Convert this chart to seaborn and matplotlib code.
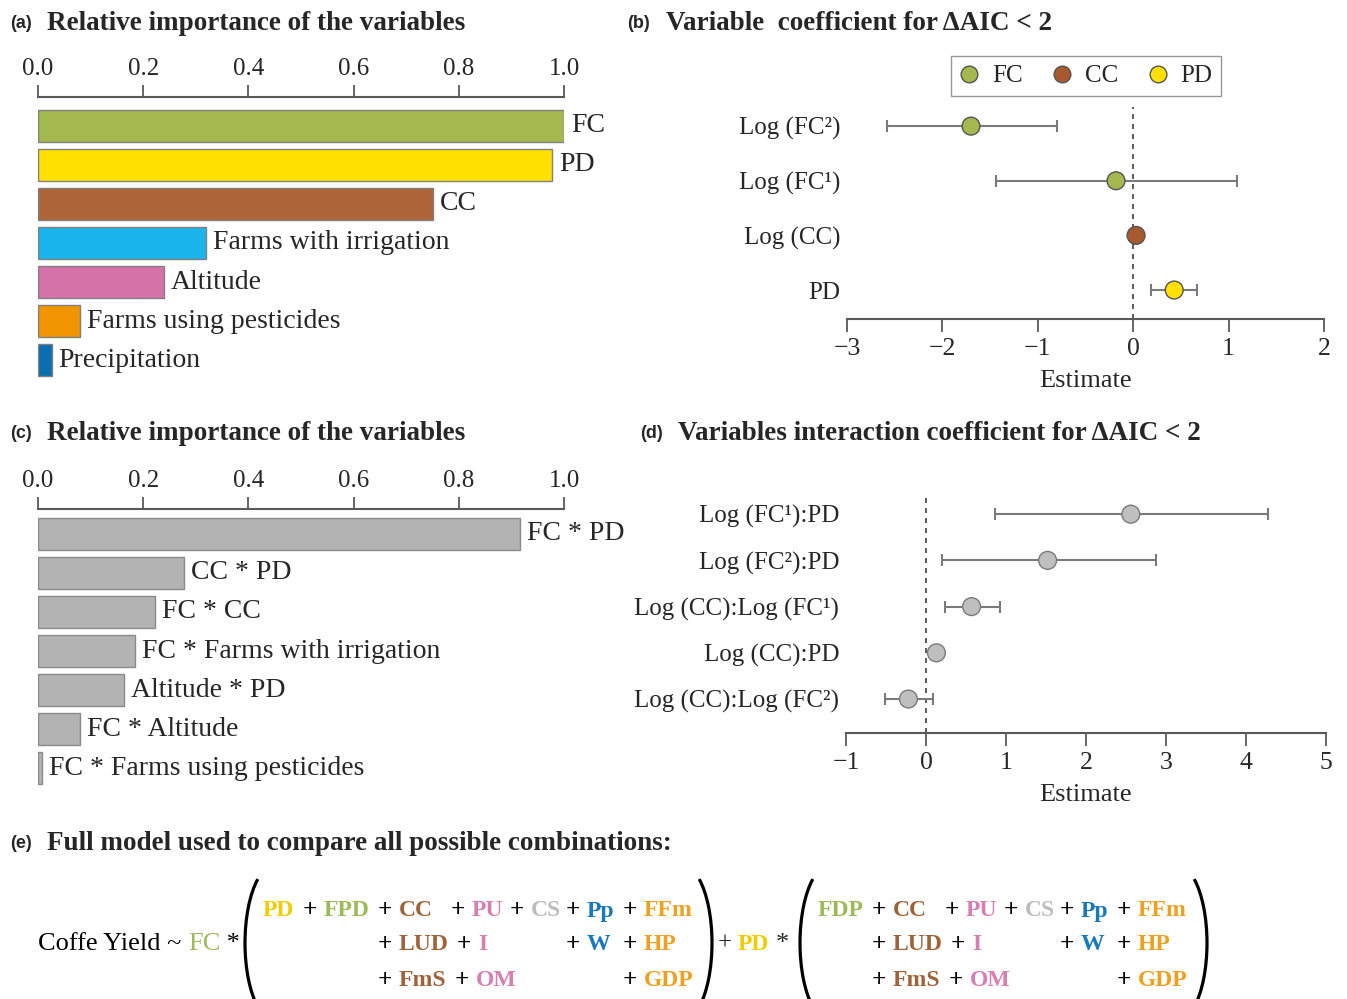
import numpy as np
import pandas as pd
import matplotlib
matplotlib.use("Agg")
import matplotlib.pyplot as plt
import seaborn as sns
from matplotlib.patches import Arc
from matplotlib.lines import Line2D

# (a) importancia relativa das variaveis
vars_a = ["FC", "PD", "CC", "Farms with irrigation", "Altitude",
          "Farms using pesticides", "Precipitation"]
imp_a = [1.00, 0.977, 0.751, 0.319, 0.240, 0.080, 0.026]
cores_a = ["#a3b84f", "#ffe000", "#ad6436", "#1ab5ea", "#d772a8", "#f09500", "#0a6eb0"]

# (c) importancia relativa das interacoes
vars_c = ["FC * PD", "CC * PD", "FC * CC", "FC * Farms with irrigation",
          "Altitude * PD", "FC * Altitude", "FC * Farms using pesticides"]
imp_c = [0.917, 0.277, 0.222, 0.185, 0.164, 0.080, 0.008]

# (b) coeficientes
termos_b = ["Log (FC²)", "Log (FC¹)", "Log (CC)", "PD"]
grupo_b = ["FC", "FC", "CC", "PD"]
est_b = [-1.70, -0.18, 0.03, 0.43]
low_b = [-2.58, -1.44, 0.03, 0.19]
high_b = [-0.80, 1.09, 0.03, 0.67]
cores_b = {"FC": "#a3b84f", "CC": "#a65a2e", "PD": "#ffe000"}

# (d) coeficientes das interacoes
termos_d = ["Log (FC¹):PD", "Log (FC²):PD", "Log (CC):Log (FC¹)",
            "Log (CC):PD", "Log (CC):Log (FC²)"]
est_d = [2.56, 1.52, 0.57, 0.13, -0.22]
low_d = [0.86, 0.20, 0.24, 0.13, -0.51]
high_d = [4.28, 2.88, 0.93, 0.13, 0.09]

# (e) formula do modelo completo
linhas_1 = [["PD", "FPD", "CC", "PU", "CS", "Pp", "FFm"],
            [None, None, "LUD", "I", None, "W", "HP"],
            [None, None, "FmS", "OM", None, None, "GDP"]]
linhas_2 = [[None, "FDP", "CC", "PU", "CS", "Pp", "FFm"],
            [None, None, "LUD", "I", None, "W", "HP"],
            [None, None, "FmS", "OM", None, None, "GDP"]]
cor_termo = {"PD": "#f2cc00", "FPD": "#9bbb59", "FDP": "#9bbb59", "FC": "#9bbb59",
             "CC": "#a0623a", "LUD": "#a0623a", "FmS": "#a0623a",
             "PU": "#d77fb3", "I": "#d77fb3", "OM": "#d77fb3",
             "CS": "#bdbdbd", "Pp": "#1a78be", "W": "#1a78be",
             "FFm": "#f0a020", "HP": "#f0a020", "GDP": "#f0a020"}

W, H = 1347, 999
sns.set_style("white")
plt.rcParams["font.family"] = ["Liberation Serif", "DejaVu Serif"]
fig = plt.figure(figsize=(W / 100, H / 100), dpi=100)


def caixa(l, t, r, b):
    return [l / W, 1 - b / H, (r - l) / W, (b - t) / H]


cinza = "#595959"

# camada de texto em pixels
ax_t = fig.add_axes([0, 0, 1, 1])
ax_t.set_xlim(0, W)
ax_t.set_ylim(H, 0)
ax_t.axis("off")


def titulo(letra, texto, xl, x, y):
    ax_t.text(xl, y, letra, fontsize=13, fontweight="bold",
              family="Liberation Sans", va="center")
    ax_t.text(x, y, texto, fontsize=19.5, fontweight="bold", va="center")


titulo("(a)", "Relative importance of the variables", 10, 47, 24)
titulo("(b)", "Variable  coefficient for ΔAIC < 2", 627, 666, 24)
titulo("(c)", "Relative importance of the variables", 10, 47, 434)
titulo("(d)", "Variables interaction coefficient for ΔAIC < 2", 640, 678, 434)
titulo("(e)", "Full model used to compare all possible combinations:", 10, 47, 843)


def barras(ax, nomes, valores, cores, borda, ylim):
    df = pd.DataFrame({"var": nomes, "imp": valores})
    sns.barplot(data=df, x="imp", y="var", hue="var", palette=cores, legend=False,
                saturation=1, edgecolor=borda, linewidth=1, width=0.82, ax=ax)
    for i, (n, v) in enumerate(zip(nomes, valores)):
        ax.text(v + 0.013, i, n, va="center", ha="left", fontsize=20)
    ax.set_xlim(0, 1)
    ax.set_ylim(*ylim)
    ax.set_xticks(np.arange(0, 1.01, 0.2))
    ax.set_xticklabels([f"{t:.1f}" for t in np.arange(0, 1.01, 0.2)])
    ax.xaxis.tick_top()
    ax.tick_params(axis="x", direction="out", length=9, width=1.3, color=cinza,
                   labelsize=18, pad=3, top=True, bottom=False)
    ax.set_yticks([])
    ax.set_xlabel("")
    ax.set_ylabel("")
    for s in ["left", "right", "bottom"]:
        ax.spines[s].set_visible(False)
    ax.spines["top"].set_color(cinza)
    ax.spines["top"].set_linewidth(1.5)
    ax.patch.set_alpha(0)


ax_a = fig.add_axes(caixa(38, 97, 564, 381))
barras(ax_a, vars_a, imp_a, cores_a, "#808080", (6.53, -0.73))

ax_c = fig.add_axes(caixa(38, 509, 564, 788))
barras(ax_c, vars_c, imp_c, ["#b3b3b3"] * len(vars_c), "#8a8a8a", (6.5, -0.63))


def coeficientes(ax, termos, est, low, high, grupos, paleta, borda, xlim, ylim):
    df = pd.DataFrame({"pos": np.arange(len(termos)), "est": est, "grupo": grupos})
    erro = [np.array(est) - np.array(low), np.array(high) - np.array(est)]
    ax.axvline(0, color="#404040", ls=(0, (3, 3)), lw=1.2, zorder=1)
    ax.errorbar(est, df["pos"], xerr=erro, fmt="none", ecolor="#7a7a7a",
                elinewidth=1.5, capsize=4, capthick=1.5, zorder=2)
    sns.scatterplot(data=df, x="est", y="pos", hue="grupo", palette=paleta, s=165,
                    edgecolor=borda, linewidth=1, legend=False, zorder=3, ax=ax)
    ax.set_xlim(*xlim)
    ax.set_ylim(*ylim)
    ax.set_xticks(np.arange(xlim[0], xlim[1] + 1))
    ax.set_yticks(df["pos"])
    ax.set_yticklabels(termos)
    ax.tick_params(axis="y", length=0, labelsize=18, pad=5)
    ax.tick_params(axis="x", direction="out", length=9, width=1.3, color=cinza,
                   labelsize=18.5, pad=5, bottom=True)
    ax.set_xlabel("Estimate", fontsize=19, labelpad=7)
    ax.set_ylabel("")
    for s in ["left", "right", "top"]:
        ax.spines[s].set_visible(False)
    ax.spines["bottom"].set_color(cinza)
    ax.spines["bottom"].set_linewidth(1.5)
    ax.patch.set_alpha(0)


ax_b = fig.add_axes(caixa(847, 107, 1324, 319))
coeficientes(ax_b, termos_b, est_b, low_b, high_b, grupo_b, cores_b, "#555555",
             (-3, 2), (3.53, -0.35))
maos = [Line2D([], [], ls="none", marker="o", markersize=12, markerfacecolor=cores_b[g],
               markeredgecolor="#555555", label=g) for g in ["FC", "CC", "PD"]]
ax_b.legend(handles=maos, ncol=3, loc="center", bbox_to_anchor=(0.501, 1.146),
            frameon=True, fancybox=False, edgecolor="#7f7f7f", fontsize=18,
            handlelength=0.8, handletextpad=0.5, columnspacing=1.2, borderpad=0.35)

ax_d = fig.add_axes(caixa(846, 498, 1326, 733))
coeficientes(ax_d, termos_d, est_d, low_d, high_d, ["x"] * len(termos_d),
             {"x": "#bfbfbf"}, "#7a7a7a", (-1, 5), (4.735, -0.35))

# (e) formula
ys = [911, 945, 980]
colunas = [263, 324, 399, 472, 531, 587, 644]
ajuste_col3 = [0, 6, 4]   # I e OM ficam um pouco mais a direita


def bloco(linhas, desloc):
    primeiro = True
    for r, linha in enumerate(linhas):
        for c, termo in enumerate(linha):
            if termo is None:
                continue
            x = colunas[c] + desloc + (ajuste_col3[r] if c == 3 else 0)
            if not (r == 0 and primeiro):
                ax_t.text(x - 14, ys[r], "+", fontsize=18, fontweight="bold",
                          ha="center", va="center", color="black")
            primeiro = False
            ax_t.text(x, ys[r], termo, fontsize=17, fontweight="bold", ha="left",
                      va="center", color=cor_termo[termo])


def parenteses(esq, dir_):
    # arco de elipse: a=30, b=78 px; angulos polares equivalentes a t=55 graus
    ang = np.degrees(np.arctan(78 / 30 * np.tan(np.radians(55))))
    for cx, t1, t2 in [(esq + 30, 180 - ang, 180 + ang), (dir_ - 30, -ang, ang)]:
        ax_t.add_patch(Arc((cx, 943), 60, 156, theta1=t1, theta2=t2, lw=2.3, color="black"))


bloco(linhas_1, 0)
bloco(linhas_2, 494)
parenteses(245, 712)
parenteses(800, 1207)

rend = fig.canvas.get_renderer()
x = 38
for txt, cor in [("Coffe Yield ~ ", "black"), ("FC", cor_termo["FC"]), (" *", "black")]:
    t = ax_t.text(x, 944, txt, fontsize=19, va="center", color=cor)
    x = t.get_window_extent(rend).x1
ax_t.text(718, 944, "+", fontsize=18, va="center")
ax_t.text(738, 944, "PD", fontsize=17, fontweight="bold", va="center", color=cor_termo["PD"])
ax_t.text(776, 944, "*", fontsize=19, va="center")

fig.savefig("out.png", dpi=100)
